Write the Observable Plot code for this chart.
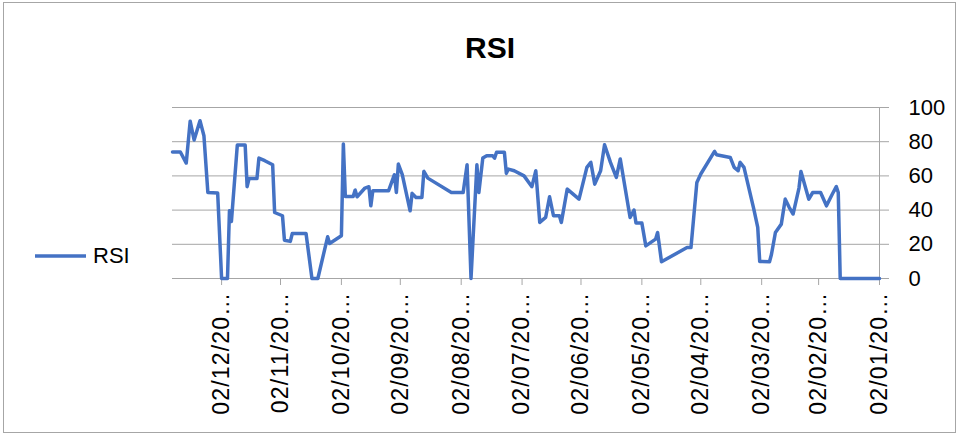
<!DOCTYPE html>
<html><head><meta charset="utf-8">
<script src="https://cdn.jsdelivr.net/npm/d3@7"></script>
<script src="https://cdn.jsdelivr.net/npm/@observablehq/plot@0.6"></script>
<style>
body{margin:0;background:#fff;font-family:"Liberation Sans",Arial,sans-serif;}
#wrap{position:relative;width:960px;height:437px;overflow:hidden;background:#fff;}
#border{position:absolute;left:3px;top:2px;width:953px;height:431px;border:1px solid #a6a6a6;box-sizing:border-box;}
#title{position:absolute;left:390px;width:200px;top:32px;text-align:center;font-weight:bold;font-size:30px;line-height:32px;color:#000;}
#legend{position:absolute;left:35px;top:242px;display:flex;align-items:center;font-size:22px;color:#000;}
#chart{position:absolute;left:0;top:80px;}
</style></head>
<body>
<div id="wrap">
  <div id="border"></div>
  <div id="title">RSI</div>
  <div id="legend"><svg width="51" height="28"><line x1="0" x2="51" y1="14" y2="14" stroke="#4472C4" stroke-width="3.5"/></svg><span style="margin-left:7px">RSI</span></div>
  <div id="chart"></div>
</div>
<script>
const dates = ["2020-01-02","2020-01-22","2020-01-23","2020-01-24","2020-01-26","2020-01-29","2020-02-01","2020-02-05","2020-02-07","2020-02-11","2020-02-12","2020-02-15","2020-02-17","2020-02-19","2020-02-21","2020-02-24","2020-02-26","2020-02-27","2020-03-03","2020-03-04","2020-03-06","2020-03-11","2020-03-13","2020-03-14","2020-03-16","2020-03-18","2020-03-25","2020-03-26","2020-04-02","2020-04-04","2020-04-07","2020-04-09","2020-04-22","2020-04-24","2020-04-25","2020-04-30","2020-05-02","2020-05-05","2020-05-06","2020-05-08","2020-05-13","2020-05-15","2020-05-18","2020-05-21","2020-05-23","2020-05-26","2020-05-28","2020-05-30","2020-06-03","2020-06-09","2020-06-12","2020-06-13","2020-06-16","2020-06-18","2020-06-20","2020-06-23","2020-06-25","2020-06-27","2020-07-01","2020-07-06","2020-07-09","2020-07-10","2020-07-11","2020-07-15","2020-07-16","2020-07-17","2020-07-20","2020-07-22","2020-07-24","2020-07-25","2020-07-28","2020-07-30","2020-08-01","2020-08-07","2020-08-19","2020-08-21","2020-08-22","2020-08-25","2020-08-27","2020-08-28","2020-09-01","2020-09-03","2020-09-04","2020-09-05","2020-09-08","2020-09-16","2020-09-17","2020-09-18","2020-09-20","2020-09-24","2020-09-25","2020-09-26","2020-09-30","2020-10-01","2020-10-02","2020-10-08","2020-10-09","2020-10-14","2020-10-17","2020-10-20","2020-10-27","2020-10-28","2020-10-31","2020-11-01","2020-11-05","2020-11-06","2020-11-10","2020-11-13","2020-11-14","2020-11-18","2020-11-19","2020-11-20","2020-11-24","2020-11-27","2020-11-28","2020-11-29","2020-12-02","2020-12-04","2020-12-09","2020-12-11","2020-12-13","2020-12-16","2020-12-18","2020-12-20","2020-12-23","2020-12-27"];
const rsi = [0,0,50.3,53.7,49.4,42.5,50.3,50.3,46.4,62.6,52.9,37.7,41.6,46.4,31.8,26.9,14.2,9.8,10,29.9,40.6,65,67.9,63,65,70.8,72.4,74.3,61.1,56.2,18.1,18.1,9.8,26.9,23,19.1,32.4,32.4,40,35.7,69.9,59.1,67.9,78.2,63,55.2,67.9,65,46.4,52.3,32.8,36.7,36.7,47.8,35.7,32.8,63,53.7,60,63,64,61.5,73.8,73.8,70.4,71.8,71.8,70.4,50.3,66.5,0,66.5,50.3,50.3,58.7,62.6,47.4,47.4,49.8,39.6,60.7,66.9,50.3,60.7,51.3,51.3,42.5,53.7,52.9,47.8,51.7,48,48,78.6,25,20.5,24.4,0,0,26.3,26.3,21.7,22.4,36.7,38.6,66.5,68.9,70.4,58.5,58.5,53.7,78,78,33.4,39.6,0,0,50,50.3,83.5,92.3,81,92,67.5,74,74];
const tickDates = ["2020-01-02","2020-02-02","2020-03-02","2020-04-02","2020-05-02","2020-06-02","2020-07-02","2020-08-02","2020-09-02","2020-10-02","2020-11-02","2020-12-02"];
const yTicks = [0,20,40,60,80,100];
const xStart = "2020-12-27", xEnd = "2020-01-02";

const parse = d3.utcParse("%Y-%m-%d");
const data = dates.map((d,i)=>({date: parse(d), rsi: rsi[i]}));
const fmt = d3.utcFormat("%d/%m/20");
const gridColor = "#a6a6a6";

const chart = Plot.plot({
  width: 960,
  height: 357,
  marginLeft: 172,
  marginRight: 81,
  marginTop: 27,
  marginBottom: 159,
  style: {fontFamily: '"Liberation Sans", Arial, sans-serif', background: "transparent"},
  x: {type: "utc", domain: [parse(xStart), parse(xEnd)]},
  y: {domain: [0, 100]},
  marks: [
    Plot.gridY(yTicks, {stroke: gridColor, strokeOpacity: 1, strokeWidth: 1}),
    Plot.ruleX([parse(xEnd)], {stroke: gridColor, strokeWidth: 1}),
    Plot.ruleY([0], {stroke: gridColor, strokeWidth: 1}),
    Plot.axisY(yTicks, {anchor: "right", tickSize: 9, tickPadding: 20, fontSize: 22, stroke: gridColor, fill: "#000", label: null}),
    Plot.axisX(tickDates.map(parse), {tickFormat: d => fmt(d) + "…", tickRotate: -90, tickSize: 7, tickPadding: 6, fontSize: 23, stroke: gridColor, fill: "#000", label: null}),
    Plot.lineY(data, {x: "date", y: "rsi", stroke: "#4472C4", strokeWidth: 3.5, strokeLinejoin: "round", strokeLinecap: "round"})
  ]
});
d3.select(chart).selectAll('g[aria-label="x-axis tick label"] text').attr("letter-spacing", "1.2px");
document.getElementById("chart").appendChild(chart);
</script>
</body></html>
